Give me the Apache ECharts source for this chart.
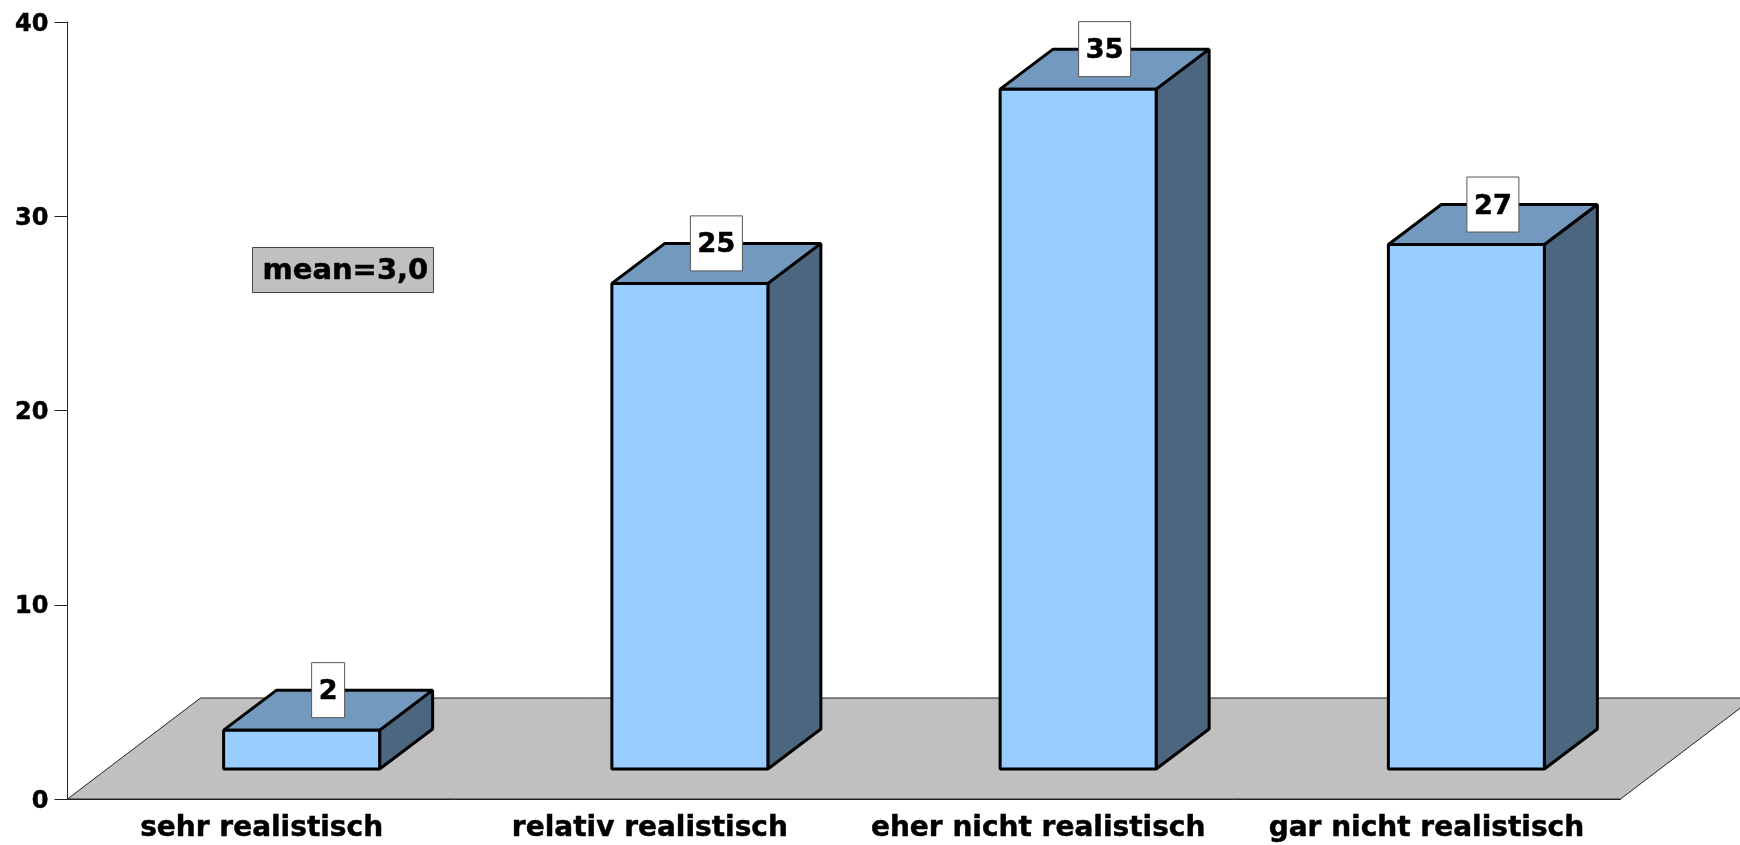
<!DOCTYPE html>
<html>
<head>
<meta charset="utf-8">
<style>html,body{margin:0;padding:0;background:#fff}#c{width:1740px;height:845px}</style>
<script src="https://cdn.jsdelivr.net/npm/echarts@6/dist/echarts.min.js"></script>
</head>
<body>
<div id="c"></div>
<script>
const categories = ['sehr realistisch', 'relativ realistisch', 'eher nicht realistisch', 'gar nicht realistisch'];
const values = [2, 25, 35, 27];
const yTicks = [0, 10, 20, 30, 40];
const meanLabel = 'mean=3,0';

const FONT = '"DejaVu Sans"';
const BAR_W = 156, BAR_SHIFT = 40, BASE_INSET = 30, DX = 53, DY = 40;
const FLOOR_DX = 133, FLOOR_DY = 101;
const LABEL_H = 55, LABEL_CHAR_W = 19, LABEL_PAD = 7;

const chart = echarts.init(document.getElementById('c'), null, {renderer: 'canvas'});

function renderFloor(params, api) {
  const c = params.coordSys;
  const b = c.y + c.height;
  return {
    type: 'polygon', silent: true,
    shape: {points: [[c.x, b], [c.x + FLOOR_DX, b - FLOOR_DY], [c.x + c.width + FLOOR_DX, b - FLOOR_DY], [c.x + c.width, b]]},
    style: {fill: '#c0c0c0', stroke: '#222', lineWidth: 1}
  };
}

function renderBar(params, api) {
  const p = api.coord([api.value(0), api.value(1)]);
  const base = api.coord([api.value(0), 0]);
  const l = p[0] - BAR_W / 2 + BAR_SHIFT, r = l + BAR_W;
  const t = p[1] - BASE_INSET, b = base[1] - BASE_INSET;
  const stroke = {stroke: '#000', lineWidth: 3, lineJoin: 'bevel'};
  const txt = String(api.value(1));
  const boxW = txt.length * LABEL_CHAR_W + 2 * LABEL_PAD;
  const cx = (l + r) / 2 + DX / 2, cy = t - DY;
  return {
    type: 'group', silent: true,
    children: [
      {type: 'polygon', shape: {points: [[r, b], [r + DX, b - DY], [r + DX, t - DY], [r, t]]}, style: Object.assign({fill: '#4d6680'}, stroke)},
      {type: 'polygon', shape: {points: [[l, t], [l + DX, t - DY], [r + DX, t - DY], [r, t]]}, style: Object.assign({fill: '#7399bf'}, stroke)},
      {type: 'polygon', shape: {points: [[l, b], [l, t], [r, t], [r, b]]}, style: Object.assign({fill: '#99ccff'}, stroke)},
      {type: 'rect', z2: 9, shape: {x: cx - boxW / 2, y: cy - LABEL_H / 2, width: boxW, height: LABEL_H},
        style: {fill: '#fff', stroke: '#555', lineWidth: 1}},
      {type: 'text', z2: 10, style: {
        text: txt, x: cx, y: cy + 2,
        align: 'center', verticalAlign: 'middle',
        font: 'bold 27px ' + FONT, fill: '#000', stroke: '#000', lineWidth: 0.6
      }}
    ]
  };
}

chart.setOption({
  animation: false,
  backgroundColor: '#fff',
  tooltip: {show: false},
  grid: {left: 67.5, right: 119.5, top: 22, bottom: 46, containLabel: false},
  xAxis: {
    type: 'category', data: categories, boundaryGap: true,
    axisLine: {show: true, lineStyle: {color: '#222', width: 1}},
    axisTick: {show: false},
    axisLabel: {interval: 0, margin: 16, color: '#000', fontFamily: FONT, fontWeight: 'bold', fontSize: 28,
      textBorderColor: '#000', textBorderWidth: 0.5}
  },
  yAxis: {
    type: 'value', min: yTicks[0], max: yTicks[yTicks.length - 1], interval: 10,
    splitLine: {show: false},
    axisLine: {show: true, lineStyle: {color: '#222', width: 1}},
    axisTick: {show: true, length: 13, lineStyle: {color: '#222', width: 1}},
    axisLabel: {margin: 19, color: '#000',
      formatter: v => '{t|' + v + '}',
      rich: {t: {fontFamily: FONT, fontWeight: 'bold', fontSize: 24, color: '#000', padding: [5, 0, 0, 0],
        textBorderColor: '#000', textBorderWidth: 0.5}}}
  },
  series: [
    {type: 'custom', z: 1, data: [[0, 0]], renderItem: renderFloor, clip: false, encode: {x: 0, y: 1}},
    {type: 'custom', z: 3, data: values.map((v, i) => [i, v]), renderItem: renderBar, clip: false, encode: {x: 0, y: 1}}
  ],
  graphic: [{
    type: 'group', left: 252, top: 247, z: 20, silent: true,
    children: [
      {type: 'rect', shape: {x: 0, y: 0, width: 181, height: 45}, style: {fill: '#c0c0c0', stroke: '#444', lineWidth: 1}},
      {type: 'text', x: 10, y: 24, style: {
        text: meanLabel, font: 'bold 29px ' + FONT, fill: '#000', stroke: '#000', lineWidth: 0.5,
        align: 'left', verticalAlign: 'middle'
      }}
    ]
  }]
});
</script>
</body>
</html>
